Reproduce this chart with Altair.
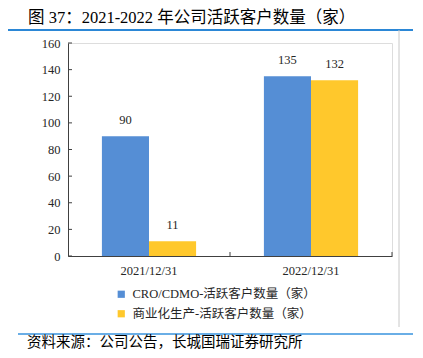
import altair as alt
import pandas as pd

categories = ["2021/12/31", "2022/12/31"]
series_names = ["CRO/CDMO-活跃客户数量（家）", "商业化生产-活跃客户数量（家）"]
cro_values = [90, 135]
commercial_values = [11, 132]
y_tick_values = [0, 20, 40, 60, 80, 100, 120, 140, 160]
series_colors = ["#558ED5", "#FFC82C"]

title_text = "图 37：2021-2022 年公司活跃客户数量（家）"
source_text = "资料来源：公司公告，长城国瑞证券研究所"

SERIF = "Liberation Serif, Noto Sans CJK SC"
SANS = "Noto Sans CJK SC"

rows = []
for c, v in zip(categories, cro_values):
    rows.append({"date": c, "series": series_names[0], "value": v})
for c, v in zip(categories, commercial_values):
    rows.append({"date": c, "series": series_names[1], "value": v})
df = pd.DataFrame(rows)

W, H = 324, 213

x_scale = alt.Scale(paddingInner=0, paddingOuter=0)
x_axis = alt.Axis(title=None, labelAngle=0, ticks=False, domain=True,
                  domainColor="#404040", labelFont=SERIF, labelFontSize=12.5,
                  labelColor="#262626", labelPadding=8)
y_scale = alt.Scale(domain=[0, 160], nice=False)
y_axis = alt.Axis(title=None, values=y_tick_values, ticks=False, grid=False,
                  labelOverlap=False,
                  domainColor="#404040", labelFont=SERIF, labelFontSize=12.5,
                  labelColor="#262626", labelPadding=8)

x_enc = alt.X("date:N", sort=categories, scale=x_scale, axis=x_axis)
y_enc = alt.Y("value:Q", scale=y_scale, axis=y_axis)
xoff = alt.XOffset("series:N", sort=series_names,
                   scale=alt.Scale(paddingInner=0, paddingOuter=0.72))

bars = alt.Chart(df).mark_bar().encode(
    x=x_enc, y=y_enc, xOffset=xoff,
    color=alt.Color("series:N", sort=series_names,
                    scale=alt.Scale(domain=series_names, range=series_colors),
                    legend=alt.Legend(title=None, orient="none", legendX=47, legendY=245,
                                      symbolType="square", symbolSize=52, symbolStrokeWidth=0,
                                      labelFont=SERIF, labelFontSize=12.5, labelColor="#262626",
                                      labelLimit=0, rowPadding=6.5, labelOffset=5)),
)

labels = alt.Chart(df).mark_text(dy=-16, font=SERIF, fontSize=12.5, color="#262626").encode(
    x=x_enc, y=y_enc, xOffset=xoff, text="value:Q"
)

ytick_df = pd.DataFrame({"value": y_tick_values})
yticks = alt.Chart(ytick_df).mark_rule(color="#404040").encode(
    y=y_enc, x=alt.value(0), x2=alt.value(4)
)

xtick_df = pd.DataFrame({"date": categories})
xticks = alt.Chart(xtick_df).mark_rule(color="#404040").encode(
    x=alt.X("date:N", sort=categories, scale=x_scale, axis=x_axis, bandPosition=1),
    y=alt.value(H - 4), y2=alt.value(H)
)

one = pd.DataFrame({"a": [0]})
top_line = alt.Chart(one).mark_rule(color="#2B87D6", strokeWidth=2).encode(
    x=alt.value(-60), x2=alt.value(345), y=alt.value(-13)
)
bottom_line = alt.Chart(one).mark_rule(color="#6AAEE6", strokeWidth=2).encode(
    x=alt.value(-50), x2=alt.value(345), y=alt.value(291)
)
right_line = alt.Chart(one).mark_rule(color="#C8C8C8", strokeWidth=1).encode(
    x=alt.value(331), y=alt.value(-13), y2=alt.value(284)
)
title_mark = alt.Chart(one).mark_text(align="left", baseline="middle", font=SERIF,
                                      fontSize=16.5, color="#000000").encode(
    x=alt.value(-40), y=alt.value(-25), text=alt.value(title_text)
)
source_mark = alt.Chart(one).mark_text(align="left", baseline="middle", font=SANS,
                                       fontSize=14.5, color="#000000").encode(
    x=alt.value(-41), y=alt.value(300), text=alt.value(source_text)
)

chart = alt.layer(
    bars, labels, yticks, xticks, top_line, bottom_line, right_line, title_mark, source_mark
).properties(
    width=W, height=H,
    autosize=alt.AutoSizeParams(type="none"),
    padding={"left": 60, "top": 35, "right": 21, "bottom": 94},
).configure_view(stroke=None).configure(background="white")

chart.save("out.html", embed_options={"renderer": "svg", "actions": False})
